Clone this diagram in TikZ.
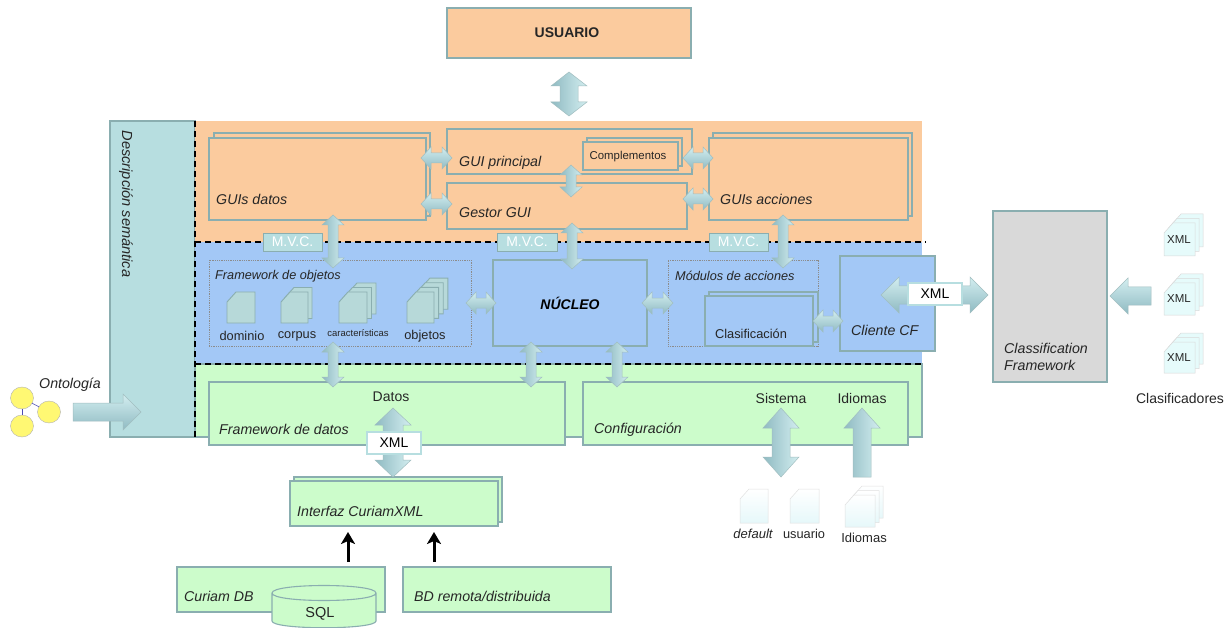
\documentclass[tikz,border=0pt]{standalone}
\usepackage{fontspec}
\setmainfont{Liberation Sans}
\usetikzlibrary{calc,arrows.meta,shapes.geometric}
\definecolor{edge}{HTML}{8AAEB0}
\definecolor{orangeB}{HTML}{FBCB9E}
\definecolor{blueB}{HTML}{A3C8F6}
\definecolor{greenB}{HTML}{CCFCCB}
\definecolor{tealB}{HTML}{B7DEE0}
\definecolor{arrD}{HTML}{8FBAC2}
\definecolor{arrL}{HTML}{D3EEF0}
\definecolor{docF}{HTML}{B7D9D9}
\definecolor{docL}{HTML}{E6F8FA}
\definecolor{xmlF}{HTML}{E6FBFB}
\tikzset{
 box/.style={draw=edge,line width=1.1pt,inner sep=0pt,outer sep=0pt,anchor=center},
 org/.style={box,fill=orangeB},
 blu/.style={box,fill=blueB},
 grn/.style={box,fill=greenB},
 gry/.style={box,fill=black!15,draw=edge},
 dotbox/.style={draw=black!45,densely dotted,line width=.8pt,inner sep=0,outer sep=0},
 mvc/.style={box,line width=.8pt,fill=tealB,text=white,font=\fontsize{14}{16}\selectfont},
 xmlbox/.style={box,draw=tealB,fill=white,font=\fontsize{14}{16}\selectfont},
 lab/.style={inner sep=0pt,font=\fontsize{14.2}{16}\selectfont\itshape,text=black!85},
 txt/.style={inner sep=0pt,font=\fontsize{12.8}{15}\selectfont,text=black!85},
 txtb/.style={inner sep=0pt,font=\fontsize{14}{16}\selectfont,text=black!85},
 sepline/.style={draw=black,dash pattern=on 6pt off 4pt,line width=1.3pt},
 hshade/.style={draw=edge!80,line width=.5pt,top color=arrL,bottom color=arrD},
 vshade/.style={draw=edge!80,line width=.5pt,left color=arrD,right color=arrL},
 blackarrow/.style={draw=black,line width=3pt,-{Stealth[length=12pt,width=14pt,inset=3pt]}},
 yellowdot/.style={ellipse,draw=gray!60,fill=yellow!55,minimum width=23pt,minimum height=22pt,inner sep=0pt},
}
% box helper: name, x1,y1,x2,y2, style
\newcommand\bx[6]{\node[#6,minimum width={#4-#2},minimum height={#5-#3}] (#1) at ({(#2+#4)/2},{(#3+#5)/2}) {};}
% double-headed vertical: a,b,head half,head len,shaft half
\newcommand\vdbl[5]{\path[vshade] let \p1=(#1),\p2=(#2) in
 (\x1,\y1) -- ({\x1+#3pt},{\y1-#4pt}) -- ({\x1+#5pt},{\y1-#4pt}) -- ({\x1+#5pt},{\y2+#4pt}) -- ({\x1+#3pt},{\y2+#4pt}) --
 (\x1,\y2) -- ({\x1-#3pt},{\y2+#4pt}) -- ({\x1-#5pt},{\y2+#4pt}) -- ({\x1-#5pt},{\y1-#4pt}) -- ({\x1-#3pt},{\y1-#4pt}) -- cycle;}
% double-headed horizontal
\newcommand\hdbl[5]{\path[hshade] let \p1=(#1),\p2=(#2) in
 (\x1,\y1) -- ({\x1+#4pt},{\y1+#3pt}) -- ({\x1+#4pt},{\y1+#5pt}) -- ({\x2-#4pt},{\y1+#5pt}) -- ({\x2-#4pt},{\y1+#3pt}) --
 (\x2,\y1) -- ({\x2-#4pt},{\y1-#3pt}) -- ({\x2-#4pt},{\y1-#5pt}) -- ({\x1+#4pt},{\y1-#5pt}) -- ({\x1+#4pt},{\y1-#3pt}) -- cycle;}
% single head towards b, horizontal
\newcommand\hsgl[6]{\path[hshade] let \p1=(#1),\p2=(#2) in
 (\x1,{\y1+#5pt}) -- ({\x2-#6#4pt},{\y1+#5pt}) -- ({\x2-#6#4pt},{\y1+#3pt}) -- (\x2,\y1) -- ({\x2-#6#4pt},{\y1-#3pt}) -- ({\x2-#6#4pt},{\y1-#5pt}) -- (\x1,{\y1-#5pt}) -- cycle;}
% single head towards top, vertical (a bottom, b top)
\newcommand\vup[5]{\path[vshade] let \p1=(#1),\p2=(#2) in
 ({\x1-#5pt},\y1) -- ({\x1-#5pt},{\y2-#4pt}) -- ({\x1-#3pt},{\y2-#4pt}) -- (\x1,\y2) -- ({\x1+#3pt},{\y2-#4pt}) -- ({\x1+#5pt},{\y2-#4pt}) -- ({\x1+#5pt},\y1) -- cycle;}
% page with snipped corner: x1,y1,x2,y2,style
\newcommand\pg[5]{\path[#5] ({#1+9},#2) -- (#3,#2) -- (#3,#4) -- (#1,#4) -- (#1,{#2+10}) -- cycle;}
\tikzset{
 darkpage/.style={draw=edge,line width=.9pt,fill=docF},
 lightpage/.style={draw=black!12,line width=.5pt,top color=white,bottom color=docL},
 xmlpage/.style={draw=black!15,line width=.5pt,fill=xmlF},
}
% stack: x1,y1,x2,y2,copies,dx,dy,style
\newcommand\stk[8]{\pgfmathtruncatemacro\nn{#5-1}\foreach \i in {\nn,...,0}{\pgfmathsetmacro\ox{\i*#6}\pgfmathsetmacro\oy{\i*#7}\pg{#1+\ox}{#2-\oy}{#3+\ox}{#4-\oy}{#8}}}
\begin{document}
\begin{tikzpicture}[x=1pt,y=-1pt]
\useasboundingbox[fill=white] (0,0) rectangle (1231,628);
% panels
\bx{usuario}{447}{8}{691}{58}{org}
\bx{semantic}{110}{121}{195}{437}{box,fill=tealB}
\bx{porange}{195}{121}{922}{242}{org,draw=none}
\bx{pblue}{195}{242}{922}{364}{blu,draw=none}
\bx{pgreen}{195}{364}{922}{437}{grn}
\node[lab,rotate=-90,font=\fontsize{14.6}{17}\selectfont\itshape] (semlab) at (126,204) {Descripción semántica};
\node[txtb,font=\fontsize{14}{16}\selectfont\bfseries] (usulab) at (567,33) {USUARIO};
% separators
\coordinate (s1) at (195,121); \coordinate (s2) at (195,437);
\coordinate (s3) at (195,242); \coordinate (s4) at (926,242);
\coordinate (s5) at (195,364); \coordinate (s6) at (922,364);
\draw[sepline] (s1) -- (s2);
\draw[sepline] (s3) -- (s4);
\draw[sepline] (s5) -- (s6);
% orange layer
\bx{gdatosb}{214}{133}{430}{216}{org}
\bx{gdatos}{209}{138}{426}{220}{org}
\bx{gprin}{447}{129}{692}{174}{org}
\bx{compb}{587}{138}{682}{166}{org}
\bx{comp}{583}{142}{678}{170}{org}
\bx{ggestor}{447}{183}{687}{229}{org}
\bx{gaccb}{713}{133}{912}{216}{org}
\bx{gacc}{709}{138}{908}{220}{org}
\node[lab,anchor=west] (l1) at (216,199) {GUIs datos};
\node[lab,anchor=west] (l2) at (459,163) {GUI principal};
\node[lab,anchor=west] (l3) at (459,213) {Gestor GUI};
\node[lab,anchor=west] (l4) at (720,199) {GUIs acciones};
\node[txt,font=\fontsize{11.4}{13}\selectfont] (l5) at (628,157) {Complementos};
% blue layer
\bx{fobj}{209}{260}{471}{346}{dotbox}
\bx{nucleo}{493}{260}{647}{346}{blu}
\bx{modul}{668}{260}{818}{346}{dotbox}
\bx{clasb}{709}{292}{818}{342}{blu}
\bx{clas}{705}{296}{813}{346}{blu}
\bx{cliente}{840}{256}{935}{351}{blu}
\node[lab,anchor=west,font=\fontsize{12.7}{15}\selectfont\itshape] (l6) at (215,276) {Framework de objetos};
\node[lab,anchor=west,font=\fontsize{12.7}{15}\selectfont\itshape] (l7) at (675,276) {Módulos de acciones};
\node[lab,font=\fontsize{14}{16}\selectfont\bfseries\itshape,text=black] (l8) at (570,303) {NÚCLEO};
\node[txt] (l9) at (751,334) {Clasificación};
\node[lab,anchor=west] (l10) at (851,330) {Cliente CF};
\pg{227}{292}{255}{323}{darkpage}
\stk{281}{292}{308}{323}{2}{4}{4.5}{darkpage}
\stk{339}{292}{367}{323}{3}{4.5}{4.5}{darkpage}
\stk{407}{292}{434}{323}{4}{4.6}{4.6}{darkpage}
\node[txt] (d1) at (242,336) {dominio};
\node[txt] (d2) at (297,336) {corpus};
\node[txt,font=\fontsize{9.5}{11}\selectfont] (d3) at (358,333) {características};
\node[txt] (d4) at (425,336) {objetos};
% green layer
\bx{fdatos}{209}{382}{565}{445}{grn}
\bx{config}{583}{382}{908}{445}{grn}
\node[lab,anchor=west] (l11) at (219,429) {Framework de datos};
\node[lab,anchor=west] (l12) at (594,430) {Configuración};
\node[txtb] (t1) at (391,397) {Datos};
\node[txtb] (t2) at (781,398) {Sistema};
\node[txtb] (t3) at (862,398) {Idiomas};
% lower
\bx{intb}{294}{477}{502}{522}{grn}
\bx{interfaz}{290}{481}{498}{526}{grn}
\node[lab,anchor=west] (l13) at (297,511) {Interfaz CuriamXML};
\bx{curiam}{177}{567}{385}{612}{grn}
\bx{remota}{403}{567}{611}{612}{grn}
\node[lab,anchor=west] (l14) at (184,596) {Curiam DB};
\node[lab,anchor=west] (l15) at (414,596) {BD remota/distribuida};
\path[draw=edge,line width=1.1pt,fill=greenB] (272,593) -- (272,621) .. controls (272,630) and (376,630) .. (376,621) -- (376,593) .. controls (376,583) and (272,583) .. (272,593) .. controls (272,603) and (376,603) .. (376,593);
\node[txtb,font=\fontsize{14.5}{16}\selectfont] (sql) at (320,614) {SQL};
\coordinate (b1) at (348,562); \coordinate (b2) at (348,532);
\coordinate (b3) at (434,562); \coordinate (b4) at (434,532);
\draw[blackarrow] (b1) -- (b2);
\draw[blackarrow] (b3) -- (b4);
% MVC
\node[mvc,minimum width=59,minimum height=18] (m1) at (292.5,242) {M.V.C.};
\node[mvc,minimum width=60,minimum height=18] (m2) at (527,242) {M.V.C.};
\node[mvc,minimum width=59,minimum height=18] (m3) at (738.5,242) {M.V.C.};
% classification framework
\bx{cfw}{993}{211}{1107}{382}{gry}
\node[lab,anchor=west,align=left,font=\fontsize{14.2}{17}\selectfont\itshape] (l16) at (1004,357) {Classification\\Framework};
% vertical block arrows
\coordinate (a1) at (569,72); \coordinate (a2) at (569,116);
\vdbl{a1}{a2}{18}{14}{9}
\coordinate (a3) at (333,215); \coordinate (a4) at (333,268);
\vdbl{a3}{a4}{11}{10}{5}
\coordinate (a5) at (572,223); \coordinate (a6) at (572,269);
\vdbl{a5}{a6}{11}{10}{5}
\coordinate (a7) at (783,215); \coordinate (a8) at (783,268);
\vdbl{a7}{a8}{11}{10}{5}
\coordinate (a9) at (571,165); \coordinate (a10) at (571,197);
\vdbl{a9}{a10}{11}{10}{5}
\coordinate (a11) at (333,342); \coordinate (a12) at (333,387);
\vdbl{a11}{a12}{11}{10}{5}
\coordinate (a13) at (531,342); \coordinate (a14) at (531,387);
\vdbl{a13}{a14}{11}{10}{5}
\coordinate (a15) at (617,342); \coordinate (a16) at (617,387);
\vdbl{a15}{a16}{11}{10}{5}
\coordinate (a17) at (393,408); \coordinate (a18) at (393,477);
\vdbl{a17}{a18}{18}{17}{10}
\coordinate (a19) at (781,408); \coordinate (a20) at (781,477);
\vdbl{a19}{a20}{18}{20}{9}
\coordinate (a21) at (862,477); \coordinate (a22) at (862,408);
\vup{a21}{a22}{18}{20}{9}
% horizontal block arrows
\coordinate (h1) at (421,158); \coordinate (h2) at (452,158);
\hdbl{h1}{h2}{11}{10}{5}
\coordinate (h3) at (421,204); \coordinate (h4) at (452,204);
\hdbl{h3}{h4}{11}{10}{5}
\coordinate (h5) at (683,158); \coordinate (h6) at (713,158);
\hdbl{h5}{h6}{11}{10}{5}
\coordinate (h7) at (683,199); \coordinate (h8) at (713,199);
\hdbl{h7}{h8}{11}{10}{5}
\coordinate (h9) at (466,303); \coordinate (h10) at (496,303);
\hdbl{h9}{h10}{11}{10}{5}
\coordinate (h11) at (642,303); \coordinate (h12) at (673,303);
\hdbl{h11}{h12}{11}{10}{5}
\coordinate (h13) at (813,321); \coordinate (h14) at (843,321);
\hdbl{h13}{h14}{11}{10}{5}
\coordinate (h15) at (881,295); \coordinate (h16) at (988,295);
\hdbl{h15}{h16}{18}{18}{9}
\coordinate (h17) at (1151,296); \coordinate (h18) at (1110,296);
\hsgl{h17}{h18}{18}{18}{9}{-}
\coordinate (h19) at (73,412); \coordinate (h20) at (141,412);
\hsgl{h19}{h20}{18}{18}{9}{}
% XML tags
\node[xmlbox,minimum width=54,minimum height=22] (x1) at (935,294) {XML};
\node[xmlbox,minimum width=54,minimum height=22] (x2) at (394,443) {XML};
% ontology
\node[yellowdot] (o1) at (22,398) {};
\node[yellowdot] (o2) at (49,412) {};
\node[yellowdot] (o3) at (22,426) {};
\draw[blue!40!gray,line width=.6pt] (o1) -- (o2);
\draw[blue!40!gray,line width=.6pt] (o1) -- (o3);
\node[lab] (l17) at (70,385) {Ontología};
% config pages
\pg{740}{489}{768}{523}{lightpage}
\pg{790}{489}{819}{523}{lightpage}
\stk{845}{495}{875}{527}{3}{4}{4.5}{lightpage}
\node[txt,font=\fontsize{13}{15}\selectfont\itshape] (c1) at (753,534) {default};
\node[txt,font=\fontsize{12.8}{15}\selectfont] (c2) at (804,534) {usuario};
\node[txt,font=\fontsize{13}{15}\selectfont] (c3) at (864,538) {Idiomas};
% XML stacks
\stk{1164}{223}{1195}{256}{3}{4}{4.5}{xmlpage}
\stk{1164}{283}{1195}{315}{3}{4}{4.5}{xmlpage}
\stk{1164}{342}{1195}{373}{3}{4}{4.5}{xmlpage}
\node[txt,font=\fontsize{11.5}{13}\selectfont] (x3) at (1179,240) {XML};
\node[txt,font=\fontsize{11.5}{13}\selectfont] (x4) at (1179,299) {XML};
\node[txt,font=\fontsize{11.5}{13}\selectfont] (x5) at (1179,358) {XML};
\node[txtb] (x6) at (1180,398) {Clasificadores};
\end{tikzpicture}
\end{document}
